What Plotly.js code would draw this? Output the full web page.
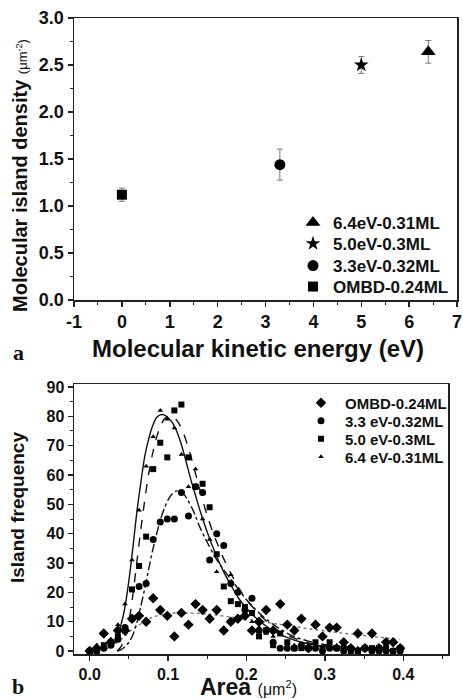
<!DOCTYPE html>
<html><head><meta charset="utf-8">
<script src="https://cdn.plot.ly/plotly-3.0.1.min.js"></script>
<style>html,body{margin:0;padding:0;background:#fff;}#chart{width:463px;height:699px;}</style>
</head><body><div id="chart"></div>
<script>
// ---------- Panel a ----------
const seriesNamesA = ['OMBD-0.24ML', '3.3eV-0.32ML', '5.0eV-0.3ML', '6.4eV-0.31ML'];
const kineticEnergy = [0, 3.3, 5.0, 6.4];
const islandDensity = [1.12, 1.44, 2.50, 2.64];
const densityError = [0.07, 0.165, 0.09, 0.12];
const energyTickVals = [-1, 0, 1, 2, 3, 4, 5, 6, 7];
const energyTickText = ['-1', '0', '1', '2', '3', '4', '5', '6', '7'];
const densityTickVals = [0, 0.5, 1, 1.5, 2, 2.5, 3];
const densityTickText = ['0.0', '0.5', '1.0', '1.5', '2.0', '2.5', '3.0'];
const symbolsA = ['square', 'circle', 'star', 'triangle-up'];
const sizesA = [10, 11, 11, 13];

// ---------- Panel b ----------
const seriesNamesB = ['OMBD-0.24ML', '3.3 eV-0.32ML', '5.0 eV-0.3ML', '6.4 eV-0.31ML'];
const areaTickVals = [0, 0.1, 0.2, 0.3, 0.4];
const areaTickText = ['0.0', '0.1', '0.2', '0.3', '0.4'];
const freqTickVals = [0, 10, 20, 30, 40, 50, 60, 70, 80, 90];
const freqTickText = ['0', '10', '20', '30', '40', '50', '60', '70', '80', '90'];
const areaBins = [0, 0.009, 0.018, 0.027, 0.036, 0.045, 0.054, 0.063, 0.072, 0.081, 0.09, 0.099, 0.108, 0.117, 0.126, 0.135, 0.144, 0.153, 0.162, 0.171, 0.18, 0.189, 0.198, 0.207, 0.216, 0.225, 0.234, 0.243, 0.252, 0.261, 0.27, 0.279, 0.288, 0.297, 0.306, 0.315, 0.324, 0.333, 0.342, 0.351, 0.36, 0.369, 0.378, 0.387, 0.396];
const freqOMBD = [0, 1, 6, 3, 7, 7, 11, 12, 10, 18, 14, 12, 5, 13, 9, 16, 14, 11, 14, 7, 10, 11, 12, 7, 10, 14, 7, 16, 9, 7, 11, 1, 9, 5, 8, 8, 3, 1, 6, 1, 6, 1, 3, 3, 1];
const freq33 = [0, 0, 1, 2, 4, 8, 11, 22, 23, 38, 44, 45, 45, 54, 46, 56, 54, 31, 40, 36, 23, 20, 14, 18, 7, 7, 3, 1, 1, 1, 2, 1, 1, 0, 1, 1, 0, 1, 0, 1, 0, 0, 0, 0, 0];
const freq50 = [0, 0, 2, 3, 5, 7, 21, 29, 39, 62, 71, 66, 82, 84, 66, 56, 57, 49, 33, 22, 17, 16, 15, 13, 5, 7, 2, 6, 3, 1, 1, 1, 3, 1, 3, 1, 1, 0, 0, 1, 1, 1, 1, 0, 1];
const freq64 = [0, 2, 2, 4, 9, 16, 31, 48, 63, 73, 82, 79, 76, 67, 56, 62, 45, 38, 27, 22, 26, 16, 13, 10, 8, 6, 5, 1, 3, 2, 2, 1, 2, 1, 2, 2, 1, 1, 1, 1, 0, 1, 0, 0, 0];
const symbolsB = ['diamond', 'circle', 'square', 'triangle-up'];
const sizesB = [8, 7, 6, 5];

// fitted curves
const fitOMBDx = [0.02, 0.03, 0.04, 0.05, 0.06, 0.07, 0.08, 0.09, 0.1, 0.12, 0.14, 0.16, 0.18, 0.2, 0.22, 0.24, 0.26, 0.28, 0.3, 0.32, 0.34, 0.36, 0.38, 0.395];
const fitOMBDy = [0.5, 2, 4, 6.5, 8.5, 10, 11.5, 12.3, 12.8, 13, 12.8, 12.3, 11.6, 10.8, 10, 9.2, 8.4, 7.6, 6.9, 6.2, 5.6, 5, 4.4, 4];
const fit33x = [0.035, 0.04, 0.045, 0.05, 0.055, 0.06, 0.065, 0.07, 0.075, 0.08, 0.085, 0.09, 0.095, 0.1, 0.105, 0.11, 0.115, 0.12, 0.125, 0.13, 0.135, 0.14, 0.15, 0.16, 0.17, 0.18, 0.19, 0.2, 0.22, 0.24, 0.26, 0.28, 0.3, 0.33, 0.36, 0.39];
const fit33y = [0, 0.5, 1.5, 3, 5.5, 9.5, 15, 21, 27.5, 34, 39.5, 44.5, 48.5, 51.5, 53.5, 54.5, 54.5, 53.5, 51.5, 49, 46, 42.5, 37, 32, 28, 24.5, 21, 17.5, 12, 8, 5, 3.3, 2.2, 1.2, 0.7, 0.4];
const fit50x = [0.035, 0.04, 0.045, 0.05, 0.055, 0.06, 0.065, 0.07, 0.075, 0.08, 0.085, 0.09, 0.095, 0.1, 0.105, 0.11, 0.115, 0.12, 0.125, 0.13, 0.135, 0.14, 0.15, 0.16, 0.17, 0.18, 0.19, 0.2, 0.22, 0.24, 0.26, 0.28, 0.3, 0.33, 0.36, 0.39];
const fit50y = [0, 1.5, 4.5, 10, 19, 30, 41, 51, 60, 67, 72.5, 76.5, 79, 80, 80, 79, 77, 74, 70, 65.5, 60.5, 55.5, 46, 38.5, 32, 26.5, 21.5, 17.5, 11.5, 7, 4.5, 2.8, 1.8, 1, 0.5, 0.3];
const fit64x = [0.03, 0.035, 0.04, 0.045, 0.05, 0.055, 0.06, 0.065, 0.07, 0.075, 0.08, 0.085, 0.09, 0.095, 0.1, 0.105, 0.11, 0.115, 0.12, 0.125, 0.13, 0.135, 0.14, 0.15, 0.16, 0.17, 0.18, 0.19, 0.2, 0.22, 0.24, 0.26, 0.28, 0.3, 0.33, 0.36, 0.39];
const fit64y = [2, 5, 9, 15, 24, 35, 47, 57, 66, 72, 76.5, 79.5, 80.5, 80.5, 79.5, 78, 75.5, 72, 67.5, 62.5, 57.5, 53, 48.5, 40.5, 33.5, 27.5, 22.5, 18, 14.5, 9.5, 6, 3.8, 2.4, 1.5, 0.8, 0.4, 0.2];
const fitDash = ['dot', 'dashdot', 'dash', 'solid'];
const fitColor = ['#777', '#111', '#111', '#111'];

// ---------- geometry helpers ----------
const W = 463, H = 699;
const px = v => v / W;
const py = v => 1 - v / H;
const bold = arr => arr.map(t => '<b>' + t + '</b>');

const FONT = 'Liberation Sans';
const freqs = [freqOMBD, freq33, freq50, freq64];
const fitXs = [fitOMBDx, fit33x, fit50x, fit64x];
const fitYs = [fitOMBDy, fit33y, fit50y, fit64y];

const traces = [];
const legRowsA = [287, 266, 244, 223];
for (let i = 0; i < 4; i++) {
  traces.push({
    type: 'scatter', mode: 'markers', name: seriesNamesA[i],
    x: [kineticEnergy[i]], y: [islandDensity[i]],
    error_y: {type: 'data', array: [densityError[i]], color: '#777', thickness: 1, width: 3},
    marker: {symbol: symbolsA[i], size: sizesA[i], color: '#000'},
    xaxis: 'x', yaxis: 'y', legend: 'legend' + (i === 0 ? '' : (i + 1))
  });
}
for (let i = 0; i < 4; i++) {
  traces.push({
    type: 'scatter', mode: 'lines', x: fitXs[i], y: fitYs[i], showlegend: false,
    line: {color: fitColor[i], width: 1.4, dash: fitDash[i], shape: 'spline', smoothing: 0.8},
    xaxis: 'x2', yaxis: 'y2', hoverinfo: 'skip'
  });
}
const legRowsB = [403, 421, 439, 457];
for (let i = 0; i < 4; i++) {
  traces.push({
    type: 'scatter', mode: 'markers', name: seriesNamesB[i],
    x: areaBins, y: freqs[i],
    marker: {symbol: symbolsB[i], size: sizesB[i], color: '#000'},
    xaxis: 'x2', yaxis: 'y2', legend: 'legend' + (i + 5)
  });
}

const boldFont = (size) => ({family: FONT, size: size, weight: 700, color: '#111'});
const axisCommon = {
  showline: true, mirror: true, linecolor: '#222', linewidth: 1.5,
  ticks: 'outside', ticklen: 5, tickwidth: 1.5, tickcolor: '#222',
  showgrid: false, zeroline: false, tickfont: boldFont(18), tickmode: 'array'
};

const layout = {
  width: W, height: H, margin: {l: 0, r: 0, t: 0, b: 0},
  paper_bgcolor: '#fff', plot_bgcolor: '#fff', showlegend: true,
  xaxis: Object.assign({}, axisCommon, {
    domain: [px(74), px(457)], range: [-1, 7], anchor: 'y',
    tickvals: energyTickVals, ticktext: bold(energyTickText),
    minor: {ticks: 'outside', ticklen: 3, tickwidth: 1, tickcolor: '#222', dtick: 0.5, tick0: 0, showgrid: false}
  }),
  yaxis: Object.assign({}, axisCommon, {
    domain: [py(300), py(18)], range: [0, 3], anchor: 'x',
    tickvals: densityTickVals, ticktext: bold(densityTickText),
    minor: {ticks: 'outside', ticklen: 3, tickwidth: 1, tickcolor: '#222', dtick: 0.25, tick0: 0, showgrid: false}
  }),
  xaxis2: Object.assign({}, axisCommon, {
    domain: [px(74), px(448)], range: [-0.02, 0.457], anchor: 'y2',
    tickvals: areaTickVals, ticktext: bold(areaTickText), tickfont: boldFont(16),
    minor: {ticks: 'outside', ticklen: 3, tickwidth: 1, tickcolor: '#222', dtick: 0.05, tick0: 0, showgrid: false}
  }),
  yaxis2: Object.assign({}, axisCommon, {
    domain: [py(654), py(384)], range: [-1, 91], anchor: 'x2',
    tickvals: freqTickVals, ticktext: bold(freqTickText), tickfont: boldFont(16),
    minor: {ticks: 'outside', ticklen: 3, tickwidth: 1, tickcolor: '#222', dtick: 5, tick0: 0, showgrid: false}
  }),
  annotations: [
    {xref: 'paper', yref: 'paper', x: px(20), y: py(176), xanchor: 'center', yanchor: 'middle', textangle: -90, showarrow: false,
     text: '<b>Molecular island density</b> <span style="font-size:13px;font-weight:normal">(μm<sup>-2</sup>)</span>',
     font: {family: FONT, size: 20, color: '#111'}},
    {xref: 'paper', yref: 'paper', x: px(258), y: py(348), xanchor: 'center', yanchor: 'middle', showarrow: false,
     text: '<b>Molecular kinetic energy (eV)</b>', font: {family: FONT, size: 24, color: '#111'}},
    {xref: 'paper', yref: 'paper', x: px(18), y: py(508), xanchor: 'center', yanchor: 'middle', textangle: -90, showarrow: false,
     text: '<b>Island frequency</b>', font: {family: FONT, size: 19, color: '#111'}},
    {xref: 'paper', yref: 'paper', x: px(248), y: py(687), xanchor: 'center', yanchor: 'middle', showarrow: false,
     text: '<b>Area</b> <span style="font-size:16px;font-weight:normal">(μm<sup>2</sup>)</span>', font: {family: FONT, size: 23, color: '#111'}},
    {xref: 'paper', yref: 'paper', x: px(18), y: py(352), xanchor: 'center', yanchor: 'middle', showarrow: false,
     text: '<b>a</b>', font: {family: 'Liberation Serif', size: 22, color: '#111'}},
    {xref: 'paper', yref: 'paper', x: px(18), y: py(686), xanchor: 'center', yanchor: 'middle', showarrow: false,
     text: '<b>b</b>', font: {family: 'Liberation Serif', size: 22, color: '#111'}}
  ]
};

for (let i = 0; i < 4; i++) {
  const key = 'legend' + (i === 0 ? '' : (i + 1));
  layout[key] = {x: px(293), xanchor: 'left', y: py(legRowsA[i]), yanchor: 'middle',
    bgcolor: 'rgba(0,0,0,0)', borderwidth: 0, itemwidth: 30, font: boldFont(17)};
}
for (let i = 0; i < 4; i++) {
  layout['legend' + (i + 5)] = {x: px(297), xanchor: 'left', y: py(legRowsB[i]), yanchor: 'middle',
    bgcolor: 'rgba(0,0,0,0)', borderwidth: 0, itemwidth: 38, font: boldFont(15)};
}

Plotly.newPlot('chart', traces, layout, {staticPlot: true, displayModeBar: false});
</script>
</body></html>
